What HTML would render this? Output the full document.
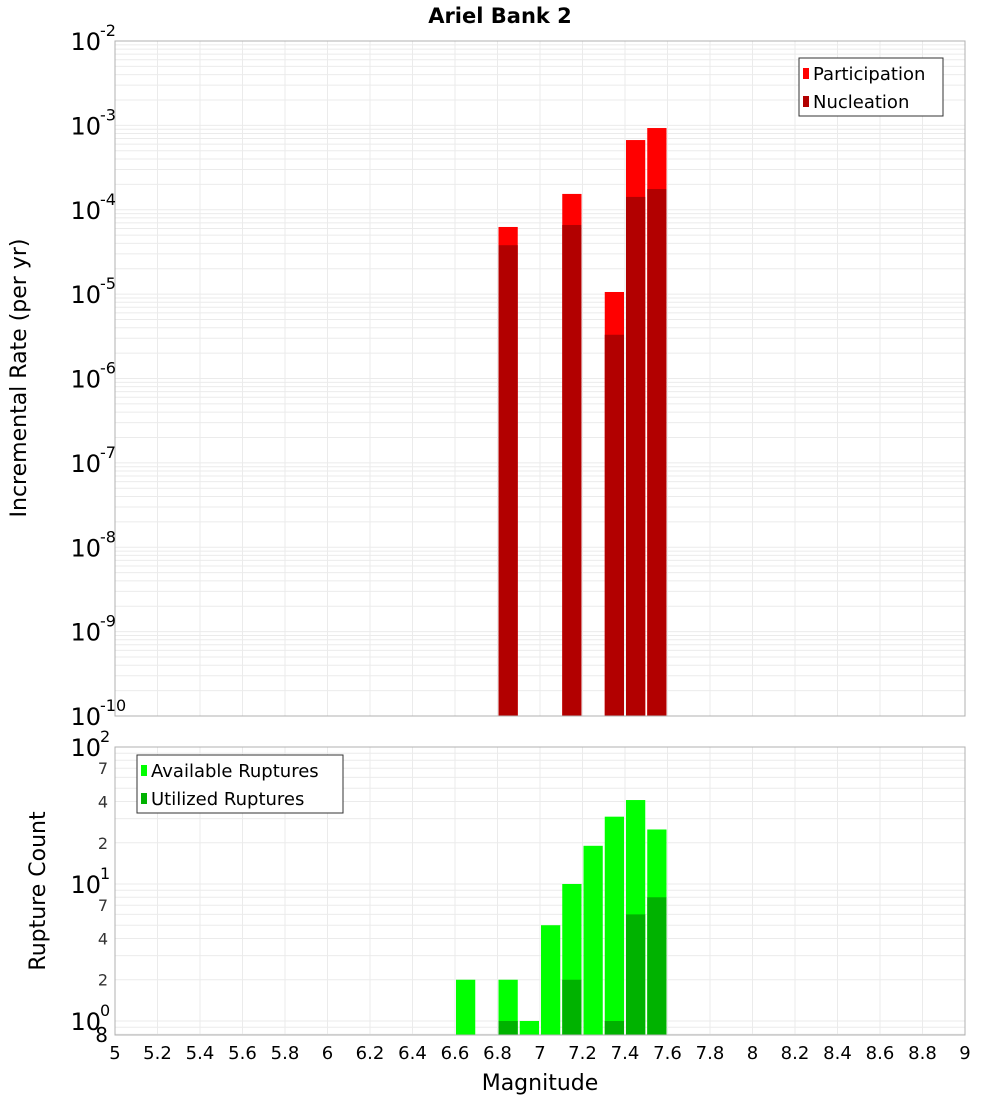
<!DOCTYPE html>
<html><head><meta charset="utf-8"><style>
html,body{margin:0;padding:0;background:#fff;}
svg{display:block;font-family:"DejaVu Sans","Liberation Sans",sans-serif;}
</style></head><body>
<svg id="chart" width="1000" height="1100" viewBox="0 0 1000 1100" xmlns="http://www.w3.org/2000/svg"></svg>
<script>
// ---- data ----
const rateMags = [6.85, 7.15, 7.35, 7.45, 7.55];
const participation = [6.25e-5, 1.54e-4, 1.06e-5, 6.7e-4, 9.3e-4];
const nucleation = [3.8e-5, 6.6e-5, 3.3e-6, 1.42e-4, 1.76e-4];
const countMags = [6.65, 6.85, 6.95, 7.05, 7.15, 7.25, 7.35, 7.45, 7.55];
const available = [2, 2, 1, 5, 10, 19, 31, 41, 25];
const utilized = [0, 1, 0, 0, 2, 0, 1, 6, 8];
const xTicks = [5,5.2,5.4,5.6,5.8,6,6.2,6.4,6.6,6.8,7,7.2,7.4,7.6,7.8,8,8.2,8.4,8.6,8.8,9];
const topExps = [-2,-3,-4,-5,-6,-7,-8,-9,-10];
const botMinorLabels = [2,4,7];

const NS = "http://www.w3.org/2000/svg";
const svg = document.getElementById('chart');
function mk(tag, attrs, parent){
  const e = document.createElementNS(NS, tag);
  for (const k in attrs) e.setAttribute(k, attrs[k]);
  (parent||svg).appendChild(e);
  return e;
}
const X0=115, X1=965;
const x = m => X0 + (m-5)/(9-5)*(X1-X0);
const T0=41, T1=716;
const yTop = v => T1 - (Math.log10(v) - (-10))/8*(T1-T0);
const B0=747, B1=1035, BMIN=0.79, BMAX=100;
const yBot = v => B1 - (Math.log10(v)-Math.log10(BMIN))/(Math.log10(BMAX)-Math.log10(BMIN))*(B1-B0);

// title
let t = mk('text',{x:500,y:23,'text-anchor':'middle','font-size':21,'font-weight':'bold',fill:'#000'});
 
t.textContent='Ariel Bank 2';

function grid(yf, ymin, ymax, pTop, pBot, name){
  const g = mk('g',{});
   
  for (let e=Math.floor(Math.log10(ymin)); e<Math.log10(ymax); e++){
    for (let k=1;k<=9;k++){
      const v=k*Math.pow(10,e);
      if (v<ymin||v>ymax) continue;
      const yy=yf(v);
      mk('line',{x1:X0,x2:X1,y1:yy,y2:yy,stroke:'#ebebeb','stroke-width':1},g);
    }
  }
  xTicks.forEach(m=>{ mk('line',{x1:x(m),x2:x(m),y1:pTop,y2:pBot,stroke:'#ebebeb','stroke-width':1},g); });
}
grid(yTop,1e-10,1e-2,T0,T1,'top-grid');
grid(yBot,BMIN,BMAX,B0,B1,'bottom-grid');

// top bars
const tb = mk('g',{});  
rateMags.forEach((m,i)=>{
  const l=x(m-0.05)+1, r=x(m+0.05)-1;
  let b=mk('rect',{x:l,y:yTop(participation[i]),width:r-l,height:T1-yTop(participation[i]),fill:'#ff0000'},tb);
   
  b=mk('rect',{x:l,y:yTop(nucleation[i]),width:r-l,height:T1-yTop(nucleation[i]),fill:'#b20000'},tb);
   
});
// bottom bars
const bb = mk('g',{});  
countMags.forEach((m,i)=>{
  const l=x(m-0.05)+1, r=x(m+0.05)-1;
  let b=mk('rect',{x:l,y:yBot(available[i]),width:r-l,height:B1-yBot(available[i]),fill:'#00ff00'},bb);
   
  if (utilized[i]>0){
    b=mk('rect',{x:l,y:yBot(utilized[i]),width:r-l,height:B1-yBot(utilized[i]),fill:'#00b200'},bb);
     
  }
});

// frames
let f=mk('rect',{x:X0,y:T0,width:X1-X0,height:T1-T0,fill:'none',stroke:'#b0b0b0'});
 
f=mk('rect',{x:X0,y:B0,width:X1-X0,height:B1-B0,fill:'none',stroke:'#b0b0b0'});
 

// y labels
function powLabel(yy, exp, parent, name){
  const g=mk('g',{},parent);
   
  const a=mk('text',{x:101,y:yy+9,'text-anchor':'end','font-size':24,fill:'#000'},g); a.textContent='10';
  const s=mk('text',{x:100,y:yy-5,'text-anchor':'start','font-size':16,fill:'#000'},g); s.textContent=String(exp);
}
const tyl=mk('g',{});  
topExps.forEach(e=>powLabel(yTop(Math.pow(10,e)), e, tyl, 'y-tick-label'));

const byl=mk('g',{});  
[0,1,2].forEach(e=>powLabel(yBot(Math.pow(10,e)), e, byl, 'y-tick-label'));
[0,1].forEach(e=>botMinorLabels.forEach(k=>{
  const tt=mk('text',{x:108,y:yBot(k*Math.pow(10,e))+6,'text-anchor':'end','font-size':16,fill:'#333'},byl);
   
  tt.textContent=k;
}));
let e8=mk('text',{x:108,y:1042,'text-anchor':'end','font-size':20,fill:'#000'},byl); e8.textContent='8';
 

// x ticks
const xl=mk('g',{});  
xTicks.forEach(m=>{
  const tt=mk('text',{x:x(m),y:1059,'text-anchor':'middle','font-size':18,fill:'#000'},xl);
   
  tt.textContent=String(m);
});
let xt=mk('text',{x:540,y:1090,'text-anchor':'middle','font-size':22,fill:'#000'});
  xt.textContent='Magnitude';
let y1=mk('text',{x:0,y:0,'text-anchor':'middle','font-size':22,fill:'#000',transform:'translate(26,378) rotate(-90)'});
  y1.textContent='Incremental Rate (per yr)';
let y2=mk('text',{x:0,y:0,'text-anchor':'middle','font-size':22,fill:'#000',transform:'translate(45,891) rotate(-90)'});
  y2.textContent='Rupture Count';

// legends
function legend(lx,ly,w,items,name){
  const g=mk('g',{});  
  mk('rect',{x:lx,y:ly,width:w,height:58,fill:'#fff',stroke:'#333'},g);
  items.forEach((it,i)=>{
    const e=mk('g',{},g);  
    mk('rect',{x:lx+4,y:ly+10+i*28,width:6,height:11,fill:it[1]},e);
    const tx=mk('text',{x:lx+14,y:ly+22+i*28,'font-size':18,fill:'#000'},e); tx.textContent=it[0];
  });
}
legend(799,58,144,[['Participation','#ff0000'],['Nucleation','#b20000']],'top-legend');
legend(137,755,206,[['Available Ruptures','#00ff00'],['Utilized Ruptures','#00b200']],'bottom-legend');
</script>
</body></html>
